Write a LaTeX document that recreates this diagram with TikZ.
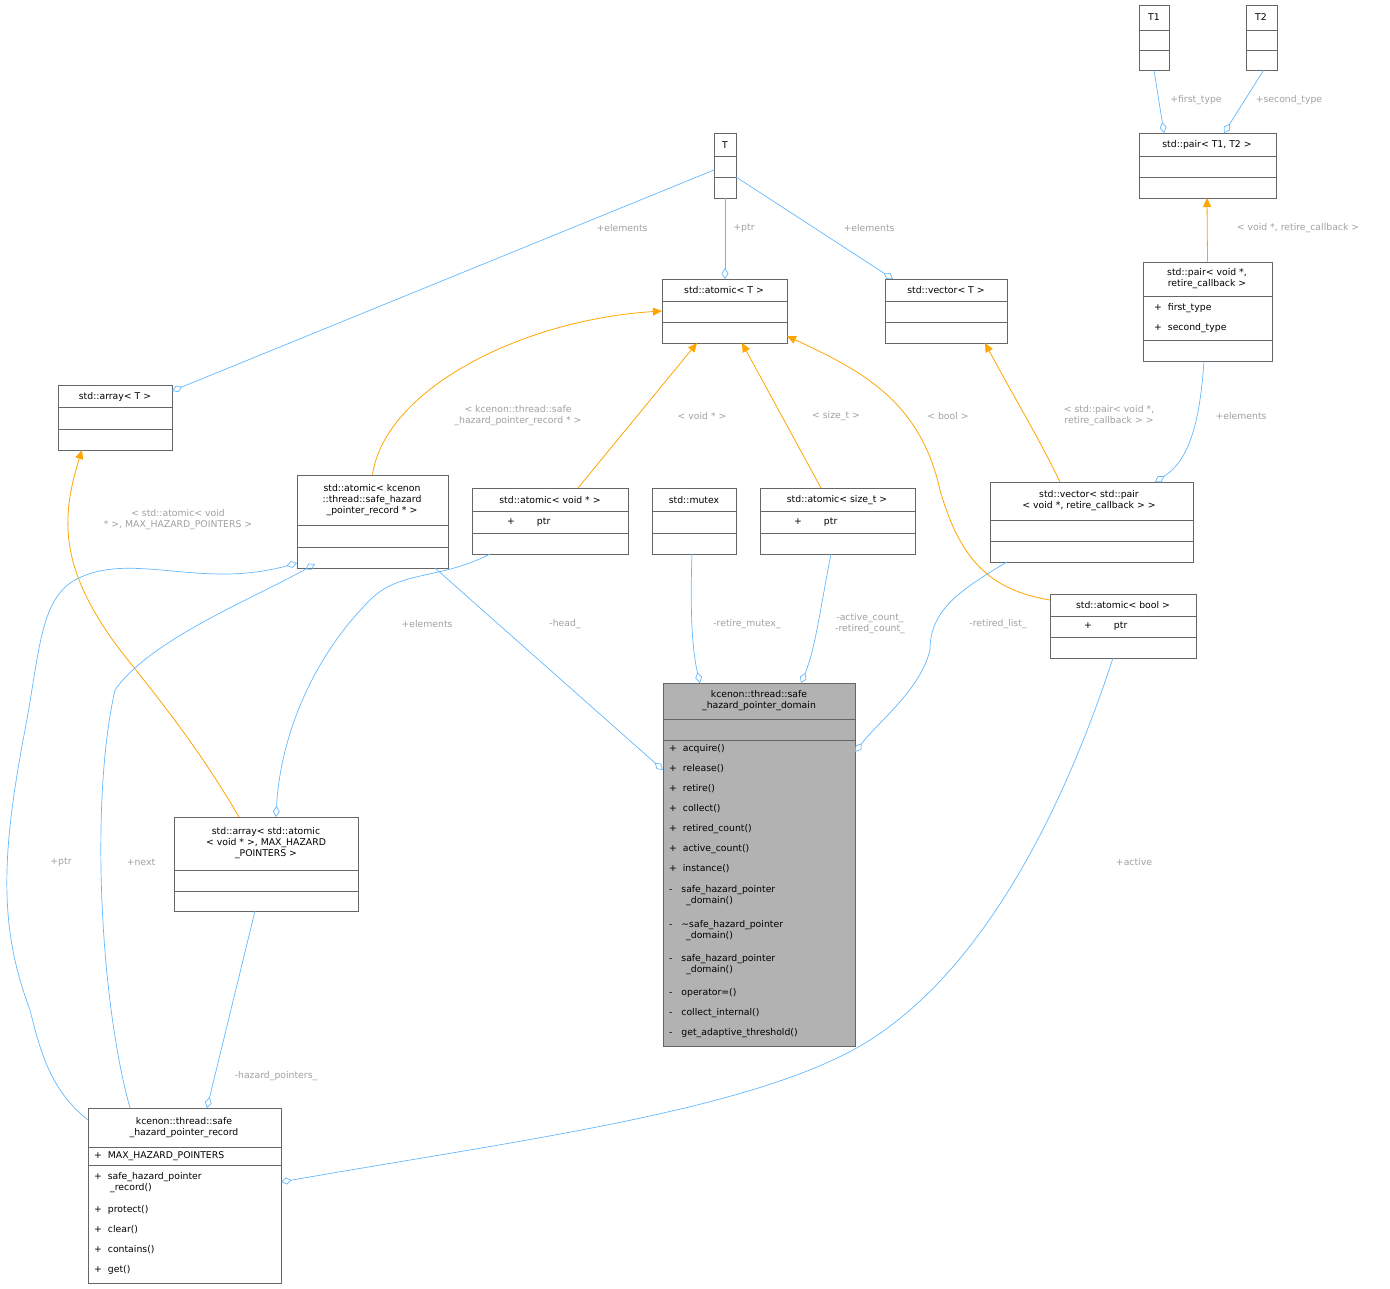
\documentclass[tikz,border=0pt]{standalone}
\usepackage{fontspec}
\setmainfont{DejaVu Sans}
\usetikzlibrary{arrows.meta}
\definecolor{eb}{RGB}{99,184,255}
\definecolor{eo}{RGB}{255,165,0}
\definecolor{lg}{RGB}{160,160,160}
\definecolor{bd}{RGB}{102,102,102}
\tikzset{
 cls/.style={draw=bd,line width=0.8pt,rectangle,inner sep=0pt},
 sep/.style={draw=bd,line width=0.8pt},
 t/.style={font=\fontsize{9.3}{11}\selectfont,inner sep=0pt,align=center},
 m/.style={t,anchor=west,align=left},
 lab/.style={font=\fontsize{9.3}{11}\selectfont,text=lg,inner sep=0pt,align=center},
 agg/.style={draw=eb,line width=0.7pt,-{Diamond[open,length=11pt,width=7pt]}},
 inh/.style={draw=eo,line width=0.8pt,-{Triangle[length=9pt,width=8pt]}}
}
\newcommand\cbox[6]{\node[cls,fill=#6,minimum width={(#4-#2)*1pt},minimum height={(#5-#3)*1pt}] (#1) at ({(#2+#4)/2},{(#3+#5)/2}) {};}
\newcommand\hs[3]{\draw[sep] (#1,#3)--(#2,#3);}
\begin{document}
\begin{tikzpicture}[x=1pt,y=-1pt]
\useasboundingbox (0,0) rectangle (1390,1289);
% boxes
\cbox{T1}{1139}{5}{1169}{70}{white}\hs{1139}{1169}{30}\hs{1139}{1169}{50}
\node[t] at (1154,17) {T1};
\cbox{T2}{1246}{5}{1277}{70}{white}\hs{1246}{1277}{30}\hs{1246}{1277}{50}
\node[t] at (1261,17) {T2};
\cbox{P12}{1139}{133}{1276}{198}{white}\hs{1139}{1276}{156}\hs{1139}{1276}{177}
\node[t] at (1207,145) {std::pair< T1, T2 >};
\cbox{T}{714}{133}{736}{198}{white}\hs{714}{736}{156}\hs{714}{736}{177}
\node[t] at (725,145) {T};
\cbox{AT}{662}{279}{787}{343}{white}\hs{662}{787}{301}\hs{662}{787}{322}
\node[t] at (724,290) {std::atomic< T >};
\cbox{VT}{885}{279}{1007}{343}{white}\hs{885}{1007}{301}\hs{885}{1007}{322}
\node[t] at (946,290) {std::vector< T >};
\cbox{PV}{1143}{262}{1272}{361}{white}\hs{1143}{1272}{296}\hs{1143}{1272}{340}
\node[t] at (1207,279) {std::pair< void *,\\ retire\_callback >};
\node[m] at (1154,308) {+\ \ first\_type};
\node[m] at (1154,328) {+\ \ second\_type};
\cbox{AR}{58}{385}{172}{450}{white}\hs{58}{172}{407}\hs{58}{172}{429}
\node[t] at (115,397) {std::array< T >};
\cbox{AK}{297}{475}{448}{568}{white}\hs{297}{448}{525}\hs{297}{448}{547}
\node[t] at (372,500) {std::atomic< kcenon\\::thread::safe\_hazard\\\_pointer\_record * >};
\cbox{AV}{472}{488}{628}{554}{white}\hs{472}{628}{511}\hs{472}{628}{533}
\node[t] at (550,500) {std::atomic< void * >};
\node[m] at (507,522) {+\hspace{22pt}ptr};
\cbox{MX}{652}{488}{736}{554}{white}\hs{652}{736}{511}\hs{652}{736}{533}
\node[t] at (694,500) {std::mutex};
\cbox{AS}{760}{488}{915}{554}{white}\hs{760}{915}{511}\hs{760}{915}{533}
\node[t] at (837,500) {std::atomic< size\_t >};
\node[m] at (794,522) {+\hspace{22pt}ptr};
\cbox{VP}{990}{482}{1193}{562}{white}\hs{990}{1193}{520}\hs{990}{1193}{541}
\node[t] at (1089,501) {std::vector< std::pair\\< void *, retire\_callback > >};
\cbox{AB}{1050}{594}{1196}{658}{white}\hs{1050}{1196}{616}\hs{1050}{1196}{637}
\node[t] at (1123,605) {std::atomic< bool >};
\node[m] at (1084,626) {+\hspace{22pt}ptr};
\cbox{D}{663}{683}{855}{1046}{lg!95!black!0!white!40!gray}\hs{663}{855}{719}\hs{663}{855}{740}
\node[t] at (759,701) {kcenon::thread::safe\\\_hazard\_pointer\_domain};
\foreach \y/\s in {749/acquire(),769/release(),789/retire(),809/collect(),829/retired\_count(),849/active\_count(),869/instance()}
  \node[m] at (669,\y) {+\ \ \s};
\node[m] at (669,896) {-\ \ \ safe\_hazard\_pointer\\\hspace{17pt}\_domain()};
\node[m] at (669,931) {-\ \ \ \textasciitilde safe\_hazard\_pointer\\\hspace{17pt}\_domain()};
\node[m] at (669,965) {-\ \ \ safe\_hazard\_pointer\\\hspace{17pt}\_domain()};
\foreach \y/\s in {993/operator=(),1013/collect\_internal(),1033/get\_adaptive\_threshold()}
  \node[m] at (669,\y) {-\ \ \ \s};
\cbox{AA}{174}{817}{358}{911}{white}\hs{174}{358}{870}\hs{174}{358}{891}
\node[t] at (266,843) {std::array< std::atomic\\< void * >, MAX\_HAZARD\\\_POINTERS >};
\cbox{R}{88}{1108}{281}{1283}{white}\hs{88}{281}{1147}\hs{88}{281}{1165}
\node[t] at (184,1128) {kcenon::thread::safe\\\_hazard\_pointer\_record};
\node[m] at (94,1156) {+\ \ MAX\_HAZARD\_POINTERS};
\node[m] at (94,1183) {+\ \ safe\_hazard\_pointer\\\hspace{16pt}\_record()};
\foreach \y/\s in {1210/protect(),1230/clear(),1250/contains(),1270/get()}
  \node[m] at (94,\y) {+\ \ \s};
% edges
\draw[agg] (T1.south) -- (1164,133);
\node[lab] at (1196,100) {+first\_type};
\draw[agg] (T2.south) ++(2,0) -- (1224,133);
\node[lab] at (1289,100) {+second\_type};
\draw[inh] (PV.north) -- (1207,198);
\node[lab] at (1298,228) {< void *, retire\_callback >};
\draw[agg] (714,170) -- (172,391);
\node[lab] at (622,228) {+elements};
\draw[agg] (T.south) -- (725,279);
\node[lab] at (744,228) {+ptr};
\draw[agg] (736,177) -- (893,279);
\node[lab] at (869,228) {+elements};
\draw[inh] (AK.north) .. controls (385,390) and (520,320) .. (662,311);
\node[lab] at (518,416) {< kcenon::thread::safe\\\_hazard\_pointer\_record * >};
\draw[inh] (578,488) -- (697,343);
\node[lab] at (702,416) {< void * >};
\draw[inh] (821,488) -- (742,343);
\node[lab] at (836,416) {< size\_t >};
\draw[inh] (1050,600) .. controls (990,590) and (960,560) .. (940,490) .. controls (920,400) and (860,370) .. (787,336);
\node[lab] at (948,416) {< bool >};
\draw[inh] (1060,482) .. controls (1040,440) and (1010,390) .. (985,343);
\node[lab] at (1109,416) {< std::pair< void *,\\retire\_callback > >};
\draw[agg] (1204,361) .. controls (1200,420) and (1190,460) .. (1155,482);
\node[lab] at (1241,416) {+elements};
\draw[inh] (239,817) .. controls (200,750) and (160,700) .. (120,650) .. controls (60,570) and (60,520) .. (82,450);
\node[lab] at (178,520) {< std::atomic< void\\* >, MAX\_HAZARD\_POINTERS >};
\draw[agg] (490,554) .. controls (440,580) and (400,570) .. (370,600) .. controls (310,660) and (280,740) .. (276,817);
\node[lab] at (427,624) {+elements};
\draw[agg] (435,568) -- (663,770);
\node[lab] at (565,624) {-head\_};
\draw[agg] (692,554) .. controls (690,610) and (692,650) .. (700,683);
\node[lab] at (747,624) {-retire\_mutex\_};
\draw[agg] (831,554) .. controls (820,610) and (815,650) .. (801,683);
\node[lab] at (870,624) {-active\_count\_\\-retired\_count\_};
\draw[agg] (1007,562) .. controls (960,590) and (930,610) .. (930,650) .. controls (920,690) and (880,720) .. (855,752);
\node[lab] at (998,624) {-retired\_list\_};
\draw[agg] (1113,658) .. controls (1060,820) and (980,970) .. (870,1040) .. controls (760,1110) and (520,1140) .. (281,1182);
\node[lab] at (1134,862) {+active};
\draw[agg] (88,1120) .. controls (50,1090) and (40,1050) .. (30,1010) .. controls (0,930) and (0,860) .. (25,730) .. controls (40,650) and (40,600) .. (75,580) .. controls (130,550) and (200,590) .. (297,563);
\node[lab] at (61,862) {+ptr};
\draw[agg] (130,1108) .. controls (100,1000) and (90,800) .. (115,690) .. controls (150,640) and (250,600) .. (315,564);
\node[lab] at (141,862) {+next};
\draw[agg] (255,911) -- (207,1108);
\node[lab] at (276,1076) {-hazard\_pointers\_};
\end{tikzpicture}
\end{document}
